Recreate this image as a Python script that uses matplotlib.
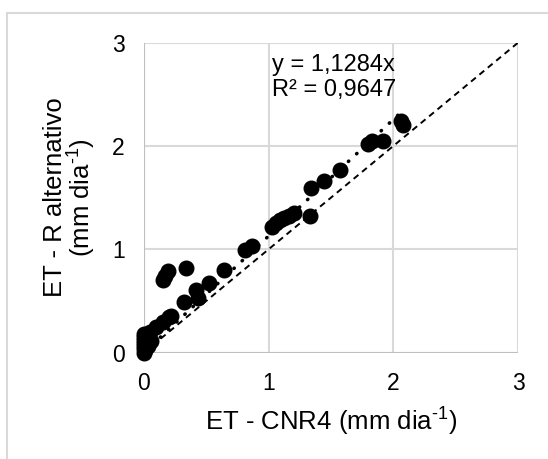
import numpy as np
import matplotlib
matplotlib.use('Agg')
import matplotlib.pyplot as plt
from matplotlib.patches import Rectangle

plt.rcParams['font.family'] = ['Liberation Sans', 'DejaVu Sans']
plt.rcParams['mathtext.fontset'] = 'custom'
plt.rcParams['mathtext.rm'] = 'Liberation Sans'
plt.rcParams['mathtext.default'] = 'regular'

# ET values (mm dia-1)
et_cnr4 = [0.00, 0.00, 0.00, 0.00, 0.00, 0.00, 0.00, 0.01, 0.02,
           0.03, 0.06, 0.05, 0.10, 0.15, 0.20, 0.22,
           0.15, 0.17, 0.19, 0.34,
           0.32, 0.42, 0.43, 0.52, 0.64, 0.81, 0.87,
           1.03, 1.06, 1.09, 1.12, 1.16, 1.20, 1.33, 1.34, 1.44, 1.57,
           1.80, 1.83, 1.92, 2.06, 2.08]
et_r_alt = [0.00, 0.03, 0.06, 0.09, 0.12, 0.15, 0.18, 0.02, 0.05,
            0.06, 0.11, 0.20, 0.25, 0.30, 0.34, 0.35,
            0.70, 0.74, 0.79, 0.82,
            0.49, 0.61, 0.53, 0.67, 0.80, 0.99, 1.03,
            1.22, 1.25, 1.28, 1.30, 1.32, 1.35, 1.32, 1.59, 1.66, 1.77,
            2.02, 2.05, 2.05, 2.24, 2.20]
slope = 1.1284
r2 = 0.9647
ticks = [0, 1, 2, 3]

fig = plt.figure(figsize=(5.48, 4.59), dpi=100)
ax = fig.add_axes([144 / 548, 1 - 352.5 / 459, 374 / 548, 309.8 / 459])

# outer chart border (cropped)
fig.patches.append(Rectangle((7 / 548, 0 - 0.05), 1.1, 1 - 13 / 459 + 0.05,
                             transform=fig.transFigure, fill=False,
                             edgecolor='#d9d9d9', linewidth=1.5))

grid_c = '#d9d9d9'
for t in ticks:
    ax.axhline(t, color=grid_c, linewidth=1.5, zorder=0)
    ax.axvline(t, color=grid_c, linewidth=1.5, zorder=0)
ax.axvline(0, color='#bfbfbf', linewidth=1.5, zorder=0)
ax.axhline(0, color='#bfbfbf', linewidth=1.5, zorder=0)

# 1:1 line
ax.plot([0, 3], [0, 3], color='black', linestyle=(0, (3.2, 2.4)), linewidth=1.4, zorder=2)

ax.plot(et_cnr4, et_r_alt, 'o', color='black', markersize=10.5, zorder=3,
        clip_on=False)

# linear trend through origin
xmax = max(et_cnr4)
ax.plot([0, xmax], [0, slope * xmax], color='black', linestyle=(0, (0.1, 3.0)),
        linewidth=2.6, dash_capstyle='round', zorder=4)

ax.text(1.03, 2.89, f'y = {slope:.4f}x'.replace('.', ',') + '\n' +
        f'R² = {r2:.4f}'.replace('.', ','),
        fontsize=17, va='top', ha='left', linespacing=1.15)

ax.set_xlim(0, 3)
ax.set_ylim(0, 3)
ax.set_xticks(ticks)
ax.set_yticks(ticks)
ax.tick_params(length=0, labelsize=16.5, pad=14)
for s in ax.spines.values():
    s.set_visible(False)

ax.set_xlabel(r'ET - CNR4 (mm dia$^{\text{-}1}$)', fontsize=18.5, labelpad=8)
ax.set_ylabel('ET - R alternativo\n' + r'(mm dia$^{\text{-}1}$)', fontsize=18.5,
              labelpad=10, linespacing=0.95)

fig.savefig('out.png', dpi=100)
